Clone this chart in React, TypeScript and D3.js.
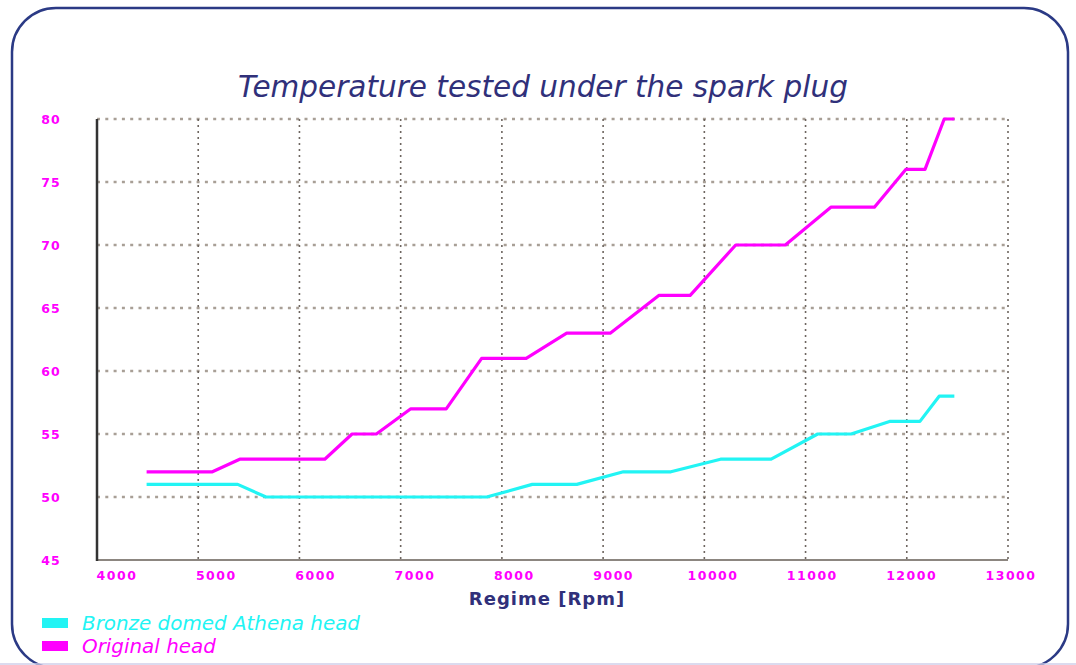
import React from "react";
import { scaleLinear, line, range } from "d3";

// chart values
const title = "Temperature tested under the spark plug";
const xTitle = "Regime [Rpm]";
const xTicks = [4000, 5000, 6000, 7000, 8000, 9000, 10000, 11000, 12000, 13000];
const yTicks = [45, 50, 55, 60, 65, 70, 75, 80];

const seriesNames = ["Bronze domed Athena head", "Original head"];

// Bronze domed Athena head: [rpm, temperature]
const bronzeRpm = [4490, 5390, 5670, 7850, 8300, 8740, 9200, 9670, 10160, 10660, 11120, 11450, 11830, 12130, 12320, 12470];
const bronzeTemp = [51, 51, 50, 50, 51, 51, 52, 52, 53, 53, 55, 55, 56, 56, 58, 58];

// Original head
const originalRpm = [4490, 5140, 5410, 6250, 6520, 6760, 7100, 7450, 7800, 8240, 8640, 9070, 9550, 9860, 10310, 10800, 11250, 11680, 11990, 12180, 12370, 12470];
const originalTemp = [52, 52, 53, 53, 55, 55, 57, 57, 61, 61, 63, 63, 66, 66, 70, 70, 73, 73, 76, 76, 80, 80];

const W = 1076;
const H = 665;
const plot = { left: 97, right: 1008, top: 119, bottom: 560 };

const navy = "#30307a";
const magenta = "#ff00ff";
const cyan = "#22f4f4";
const font = "'DejaVu Sans', Verdana, sans-serif";

const App = () => {
  const x = scaleLinear().domain([4000, 13000]).range([plot.left, plot.right]);
  const y = scaleLinear().domain([45, 80]).range([plot.bottom, plot.top]);
  // tick labels sit on their own, slightly narrower spacing
  const xLabel = scaleLinear().domain([4000, 13000]).range([117, 1011]);

  const mk = (rs: number[], ts: number[]) => rs.map((r, i) => [r, ts[i]] as [number, number]);
  const path = line<[number, number]>()
    .x((d) => x(d[0]))
    .y((d) => y(d[1]));

  const series = [
    { name: seriesNames[0], color: cyan, data: mk(bronzeRpm, bronzeTemp) },
    { name: seriesNames[1], color: magenta, data: mk(originalRpm, originalTemp) },
  ];

  return (
    <svg
      width={W}
      height={H}
      style={{ position: "absolute", left: 0, top: 0, display: "block", background: "#fff" }}
    >
      {/* frame */}
      <rect x={12} y={8} width={1056} height={660} rx={44} ry={44} fill="#fff" stroke="#2b3a85" strokeWidth={2.5} />
      <line x1={0} x2={W} y1={664} y2={664} stroke="#cfcfea" strokeWidth={1.5} />

      <text
        x={543}
        y={97}
        textAnchor="middle"
        fontFamily={font}
        fontStyle="italic"
        fontSize={29.5}
        fill={navy}
      >
        {title}
      </text>

      {/* horizontal grid */}
      {yTicks.filter((t) => t > 45).map((t) => (
        <line
          key={"h" + t}
          x1={plot.left}
          x2={plot.right}
          y1={y(t)}
          y2={y(t)}
          stroke="#a89f96"
          strokeWidth={2.5}
          strokeDasharray="3,5.3"
        />
      ))}
      {/* vertical grid */}
      {xTicks.filter((t) => t > 4000).map((t) => (
        <line
          key={"v" + t}
          x1={x(t)}
          x2={x(t)}
          y1={plot.top}
          y2={plot.bottom}
          stroke="#6e6660"
          strokeWidth={1.6}
          strokeDasharray="2,4"
        />
      ))}

      {/* axes */}
      <line x1={plot.left} x2={plot.right} y1={plot.bottom} y2={plot.bottom} stroke="#8c8680" strokeWidth={2} />
      <line x1={plot.left} x2={plot.left} y1={plot.top} y2={plot.bottom + 1} stroke="#333" strokeWidth={2.5} />

      {yTicks.map((t) => (
        <text
          key={"yl" + t}
          x={51}
          y={y(t) + 4.5}
          textAnchor="middle"
          fontFamily={font}
          fontWeight="bold"
          fontSize={12.5}
          letterSpacing={1}
          fill={magenta}
        >
          {t}
        </text>
      ))}
      {xTicks.map((t) => (
        <text
          key={"xl" + t}
          x={xLabel(t)}
          y={580}
          textAnchor="middle"
          fontFamily={font}
          fontWeight="bold"
          fontSize={12.5}
          letterSpacing={1.5}
          fill={magenta}
        >
          {t}
        </text>
      ))}

      <text
        x={547}
        y={605}
        textAnchor="middle"
        fontFamily={font}
        fontWeight="bold"
        fontSize={18}
        letterSpacing={1}
        fill={navy}
      >
        {xTitle}
      </text>

      {/* series */}
      {series.map((s) => (
        <path
          key={s.name}
          d={path(s.data) || ""}
          fill="none"
          stroke={s.color}
          strokeWidth={3.2}
          strokeLinejoin="round"
        />
      ))}

      {/* legend */}
      {series.map((s, i) => (
        <g key={"lg" + i} transform={`translate(0, ${range(2)[i] * 23})`}>
          <rect x={42} y={618} width={26} height={10} fill={s.color} />
          <text
            x={82}
            y={630}
            fontFamily={font}
            fontStyle="italic"
            fontSize={19.9}
            fill={s.color}
          >
            {s.name}
          </text>
        </g>
      ))}
    </svg>
  );
};

export default App;
